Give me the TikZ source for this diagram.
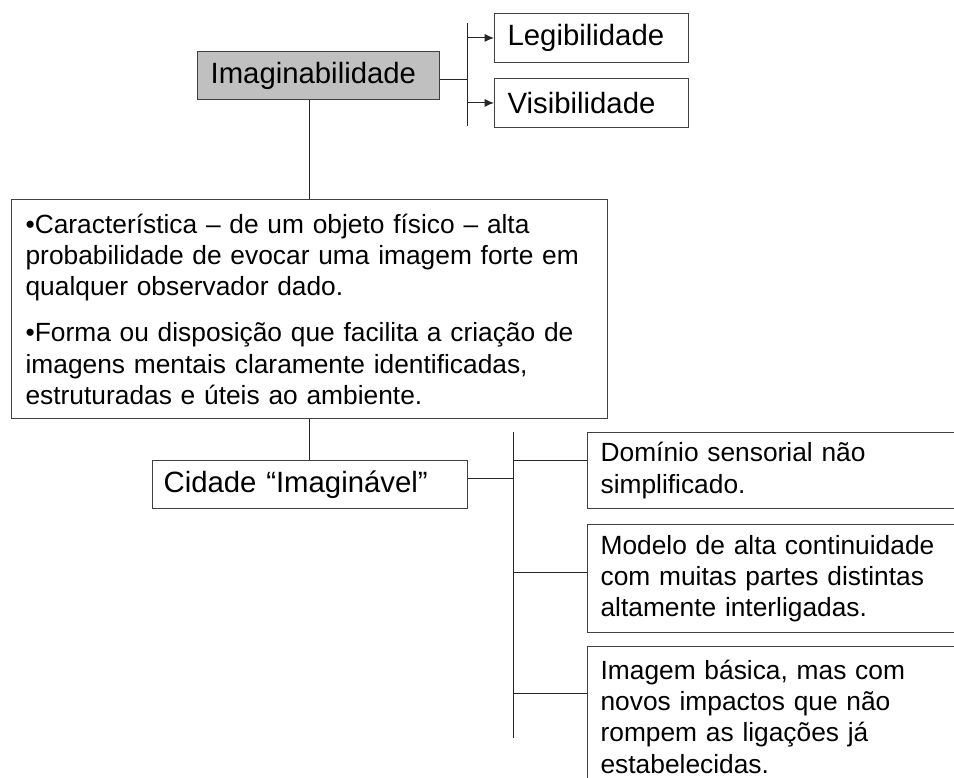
\documentclass[tikz,border=0pt]{standalone}
\usepackage{fontspec}
\setmainfont{Liberation Sans}
\usetikzlibrary{positioning,arrows.meta}
\definecolor{boxgray}{RGB}{192,192,192}
\definecolor{edgegray}{RGB}{64,64,64}

\begin{document}
\begin{tikzpicture}[x=0.75pt,y=-0.75pt,
    box/.style={draw=edgegray, line width=0.9pt, anchor=north west, align=left, inner ysep=0pt},
    label/.style={box, font=\fontsize{22}{26}\selectfont},
    body/.style={box, font=\fontsize{19.75}{23.5}\selectfont},
    side/.style={body, text width=259pt, inner xsep=9.75pt},
    link/.style={draw=black!85, line width=0.75pt}]
    \useasboundingbox (0,0) rectangle (954,778);
    \clip (0,0) rectangle (954,778);

    \node[label, fill=boxgray, text width=162pt, inner xsep=9.75pt, minimum height=36pt] (imag) at (197,51) {Imaginabilidade};
    \node[label, text width=126pt, inner xsep=9.75pt, minimum height=36.5pt] (leg) at (494,13) {Legibilidade};
    \node[label, text width=126pt, inner xsep=9.75pt, minimum height=36.5pt] (vis) at (494,78) {Visibilidade};

    \node[body, text width=426pt, inner xsep=10.5pt, minimum height=164.25pt] (carac) at (11,199)
        {•Característica – de um objeto físico – alta\\
         probabilidade de evocar uma imagem forte em\\
         qualquer observador dado.\\[11pt]
         •Forma ou disposição que facilita a criação de\\
         imagens mentais claramente identificadas,\\
         estruturadas e úteis ao ambiente.};

    \node[label, text width=219.75pt, inner xsep=8.25pt, minimum height=36pt] (cidade) at (152,460) {Cidade “Imaginável”};

    \node[side, minimum height=57pt] (dom) at (587,432) {Domínio sensorial não\\ simplificado.};
    \node[side, minimum height=81pt] (modelo) at (587,524) {Modelo de alta continuidade\\ com muitas partes distintas\\ altamente interligadas.};
    \node[side, minimum height=105pt] (imagem) at (587,646) {Imagem básica, mas com\\ novos impactos que não\\ rompem as ligações já\\ estabelecidas.};

    \coordinate (top1) at (467.5,23);
    \coordinate (bot1) at (467.5,126);
    \coordinate (top2) at (513.5,432);
    \coordinate (bot2) at (513.5,738);

    % upper bracket
    \draw[link] (top1) -- (bot1);
    \draw[link] ([yshift=-3pt]imag.east) -- ([yshift=-3pt]imag.east -| top1);
    \draw[link,-{Latex[length=7pt,width=6pt]}] (leg.west -| top1) -- (leg.west);
    \draw[link,-{Latex[length=7pt,width=6pt]}] (vis.west -| top1) -- (vis.west);

    \draw[link] (carac.north) -- (carac.north |- imag.south);
    \draw[link] (carac.south) -- (carac.south |- cidade.north);

    % lower bracket
    \draw[link] (top2) -- (bot2);
    \draw[link] ([yshift=4.5pt]cidade.east) -- ([yshift=4.5pt]cidade.east -| top2);
    \foreach \n/\s in {dom/7.5, modelo/4.5, imagem/17.25}
        \draw[link] ([yshift=\s pt]\n.west -| top2) -- ([yshift=\s pt]\n.west);
\end{tikzpicture}
\end{document}
